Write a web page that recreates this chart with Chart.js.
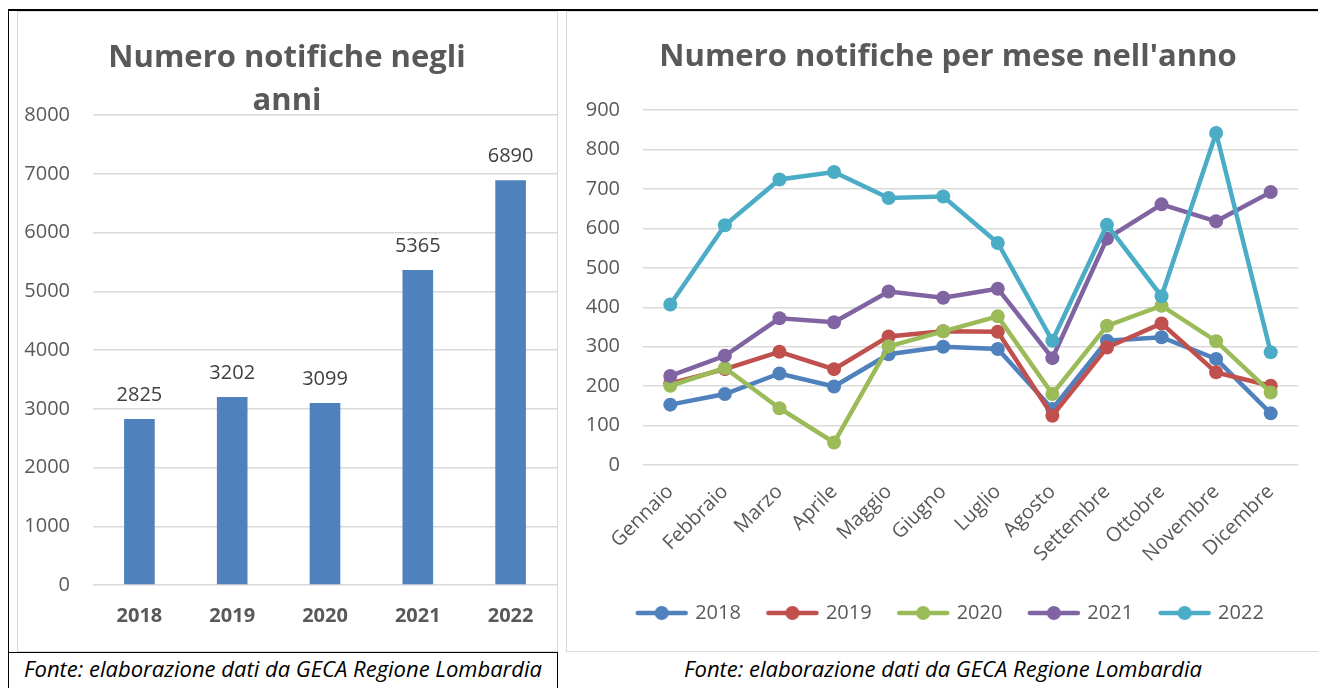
<!DOCTYPE html>
<html lang="it">
<head>
<meta charset="utf-8">
<title>Numero notifiche</title>
<script src="https://cdn.jsdelivr.net/npm/chart.js@4.4.1/dist/chart.umd.min.js"></script>
<style>
  html, body { margin: 0; padding: 0; background: #fff; }
  body { width: 1318px; height: 688px; position: relative; overflow: hidden; font-family: "Open Sans", sans-serif; }
  .box { position: absolute; border: 1px solid #d9d9d9; box-sizing: border-box; }
  .rule { position: absolute; background: #000; }
  canvas { position: absolute; }
  .caption { position: absolute; top: 652px; height: 36px; line-height: 32px; text-align: center; font-style: italic; font-size: 22px; color: #000; white-space: nowrap; }
</style>
</head>
<body>
<div class="rule" style="left:8px; top:9px; width:1310px; height:2px;"></div>
<div class="rule" style="left:8px; top:9px; width:1px; height:679px;"></div>
<div class="rule" style="left:8px; top:652px; width:550px; height:1px;"></div>
<div class="rule" style="left:557px; top:652px; width:1px; height:36px;"></div>

<div class="box" style="left:17px; top:11px; width:541px; height:641px;"></div>
<div class="box" style="left:566px; top:11px; width:760px; height:641px;"></div>

<canvas id="yearsChart" width="540" height="640" style="left:17px; top:11px;"></canvas>
<canvas id="monthsChart" width="752" height="640" style="left:566px; top:11px;"></canvas>

<div class="caption" style="left:8px; width:550px;">Fonte: elaborazione dati da GECA Regione Lombardia</div>
<div class="caption" style="left:557px; width:772px;">Fonte: elaborazione dati da GECA Regione Lombardia</div>

<script>
// totals per year
const years = ['2018', '2019', '2020', '2021', '2022'];
const yearTotals = [2825, 3202, 3099, 5365, 6890];

// monthly notifications
const months = ['Gennaio', 'Febbraio', 'Marzo', 'Aprile', 'Maggio', 'Giugno', 'Luglio', 'Agosto', 'Settembre', 'Ottobre', 'Novembre', 'Dicembre'];
const months2018 = [153, 180, 232, 199, 281, 300, 294, 142, 315, 324, 269, 131];
const months2019 = [207, 243, 287, 243, 326, 339, 338, 125, 298, 359, 235, 201];
const months2020 = [201, 246, 144, 57, 301, 339, 377, 180, 353, 404, 314, 184];
const months2021 = [226, 277, 372, 362, 440, 424, 447, 271, 574, 661, 618, 692];
const months2022 = [407, 608, 724, 743, 677, 681, 563, 315, 609, 428, 842, 286];

const seriesColors = ['#4f81bd', '#c0504d', '#9bbb59', '#8064a2', '#4bacc6'];
const textGrey = '#595959';
const gridGrey = '#d9d9d9';
const fontFamily = '"Open Sans", sans-serif';

// value labels above the bars
const barValueLabels = {
    id: 'barValueLabels',
    afterDatasetsDraw(chart) {
        const ctx = chart.ctx;
        const meta = chart.getDatasetMeta(0);
        ctx.save();
        ctx.font = '20px ' + fontFamily;
        ctx.fillStyle = '#404040';
        ctx.textAlign = 'center';
        ctx.textBaseline = 'middle';
        meta.data.forEach(function (bar, i) {
            ctx.fillText(String(yearTotals[i]), bar.x, bar.y - 24);
        });
        ctx.restore();
    }
};

new Chart(document.getElementById('yearsChart'), {
    type: 'bar',
    data: {
        labels: years,
        datasets: [{
            label: 'Notifiche',
            data: yearTotals,
            backgroundColor: '#4f81bd',
            categoryPercentage: 1,
            barPercentage: 0.33
        }]
    },
    options: {
        responsive: false,
        animation: false,
        devicePixelRatio: 1,
        layout: { padding: 0 },
        scales: {
            y: {
                min: 0,
                max: 8000,
                ticks: {
                    stepSize: 1000,
                    color: textGrey,
                    padding: 23,
                    font: { family: fontFamily, size: 20 },
                    callback: function (value) { return String(value); }
                },
                grid: { color: gridGrey, lineWidth: 1.5, drawTicks: false },
                border: { display: false },
                afterFit: function (scale) { scale.width = 76; }
            },
            x: {
                ticks: { color: textGrey, padding: 19, font: { family: fontFamily, size: 20, weight: 'bold' } },
                grid: { display: false, drawTicks: false },
                border: { display: false },
                afterFit: function (scale) { scale.height = 66; }
            }
        },
        plugins: {
            legend: { display: false },
            tooltip: { enabled: false },
            title: {
                display: true,
                text: ['Numero notifiche negli', 'anni'],
                color: textGrey,
                font: { family: fontFamily, size: 31, weight: 'bold', lineHeight: 1.39 },
                padding: { top: 26, bottom: -8 }
            }
        }
    },
    plugins: [barValueLabels]
});

// legend marker: short line with a dot
function legendIcon(color) {
    const c = document.createElement('canvas');
    c.width = 54;
    c.height = 16;
    const g = c.getContext('2d');
    g.strokeStyle = color;
    g.lineWidth = 4.5;
    g.lineCap = 'round';
    g.beginPath();
    g.moveTo(3, 8);
    g.lineTo(51, 8);
    g.stroke();
    g.fillStyle = color;
    g.beginPath();
    g.arc(27, 8, 7, 0, Math.PI * 2);
    g.fill();
    return c;
}
const legendIcons = seriesColors.map(legendIcon);

// title and legend sit centred on the whole box, not on the plot
const shiftHeader = {
    id: 'shiftHeader',
    afterLayout(chart) {
        chart.titleBlock.left += 16;
        chart.titleBlock.right += 16;
        chart.legend.left += 19;
        chart.legend.right += 19;
    }
};

const monthSeries = [months2018, months2019, months2020, months2021, months2022];

new Chart(document.getElementById('monthsChart'), {
    type: 'line',
    data: {
        labels: months,
        datasets: monthSeries.map(function (values, i) {
            return {
                label: years[i],
                data: values,
                borderColor: seriesColors[i],
                backgroundColor: seriesColors[i],
                borderWidth: 4.5,
                pointRadius: 7,
                pointBorderWidth: 0,
                pointBackgroundColor: seriesColors[i],
                tension: 0,
                order: 5 - i
            };
        })
    },
    options: {
        responsive: false,
        animation: false,
        devicePixelRatio: 1,
        layout: { padding: { left: 0, right: 20, top: 0, bottom: 18 } },
        scales: {
            y: {
                min: 0,
                max: 900,
                ticks: { stepSize: 100, color: textGrey, padding: 23, font: { family: fontFamily, size: 20 } },
                grid: { color: gridGrey, lineWidth: 1.5, drawTicks: false },
                border: { display: false },
                afterFit: function (scale) { scale.width = 77; }
            },
            x: {
                offset: true,
                ticks: { color: textGrey, padding: 15, minRotation: 45, maxRotation: 45, autoSkip: false, font: { family: fontFamily, size: 20 } },
                grid: { display: false, drawTicks: false },
                border: { display: false },
                afterFit: function (scale) { scale.height = 110; }
            }
        },
        plugins: {
            tooltip: { enabled: false },
            title: {
                display: true,
                text: "Numero notifiche per mese nell'anno",
                color: textGrey,
                font: { family: fontFamily, size: 31, weight: 'bold', lineHeight: 1.39 },
                padding: { top: 25, bottom: 31 }
            },
            legend: {
                position: 'bottom',
                labels: {
                    usePointStyle: true,
                    pointStyleWidth: 47,
                    padding: 28,
                    color: textGrey,
                    font: { family: fontFamily, size: 20 },
                    generateLabels: function (chart) {
                        const items = Chart.defaults.plugins.legend.labels.generateLabels(chart);
                        items.forEach(function (item) { item.pointStyle = legendIcons[item.datasetIndex]; });
                        return items.sort(function (a, b) { return a.datasetIndex - b.datasetIndex; });
                    }
                }
            }
        }
    },
    plugins: [shiftHeader]
});
</script>
</body>
</html>
